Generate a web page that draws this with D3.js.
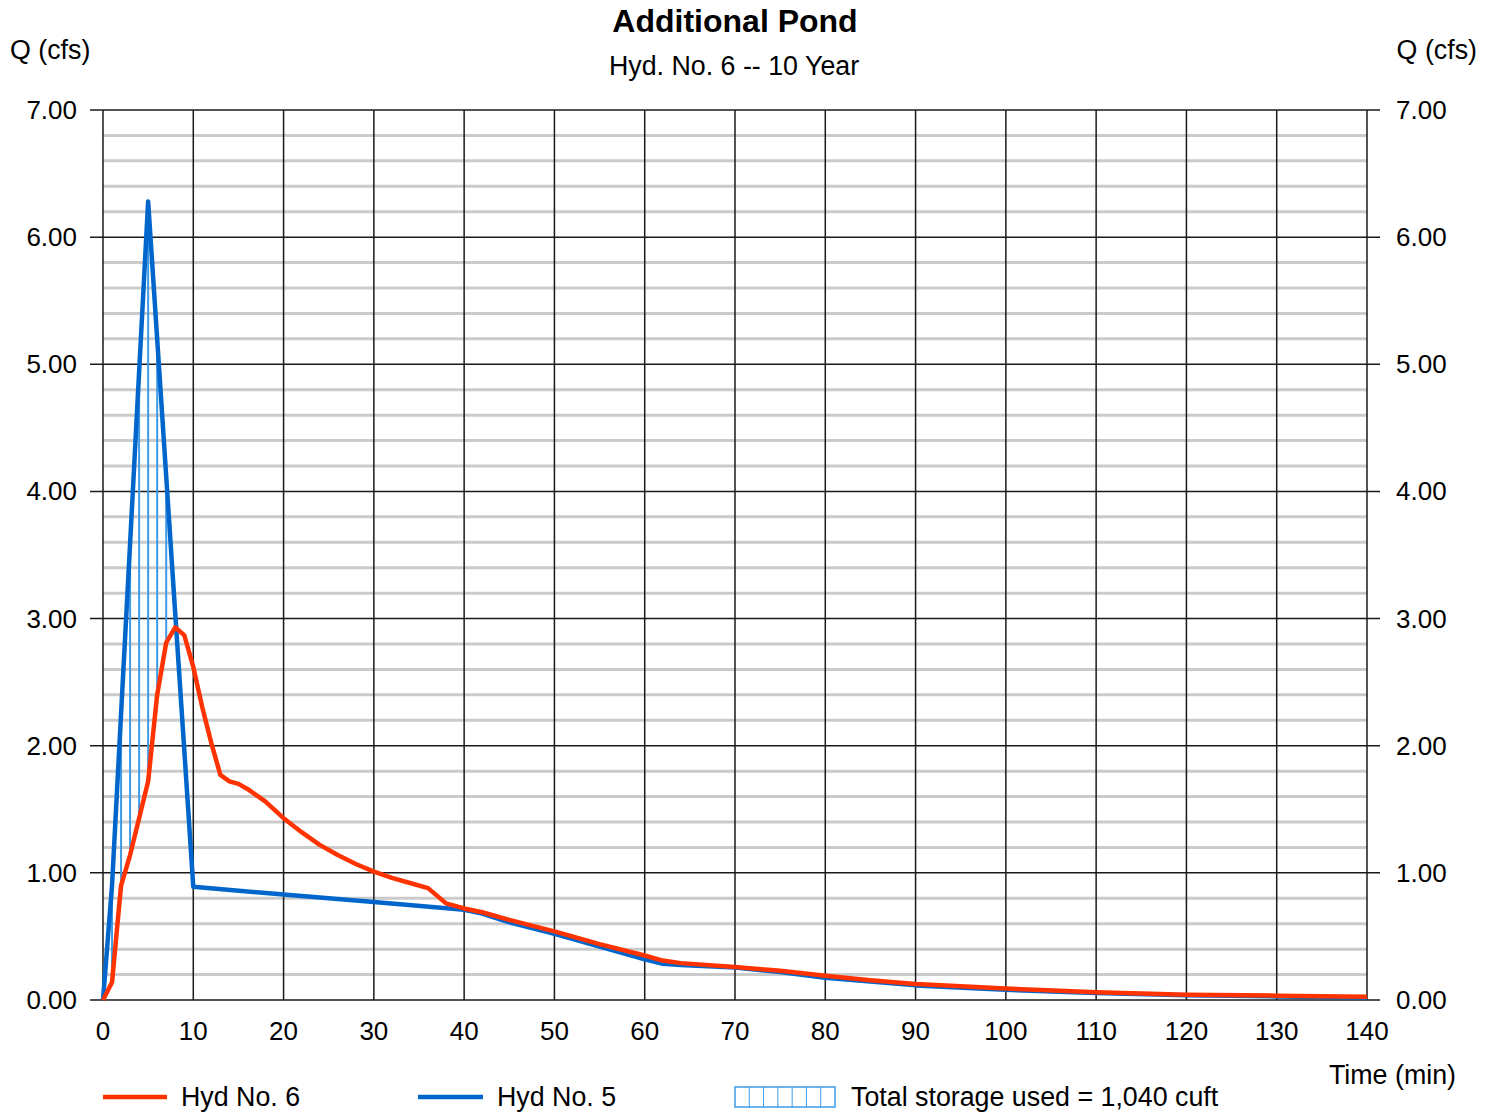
<!DOCTYPE html>
<html>
<head>
<meta charset="utf-8">
<script src="https://cdn.jsdelivr.net/npm/d3@7"></script>
<style>
  body { margin: 0; background: #fff; }
  svg { font-family: "Liberation Sans", Arial, sans-serif; }
</style>
</head>
<body>
<svg id="chart" width="1494" height="1112"></svg>
<script>
const red = '#ff3300'
const blue = '#0066cc'
const hatchBlue = '#3d9be6'

// Hyd No. 6 (outflow)
const timeOut = [0, 1, 2, 3, 4, 5, 6, 7, 8, 9, 10, 11, 12, 13, 14, 15, 16, 18, 20, 22, 24, 26, 28, 30, 32, 34, 36, 38, 40, 42, 45, 50, 55, 60, 62, 64, 70, 75, 80, 85, 90, 100, 110, 120, 130, 140]
const qOut = [0, 0.14, 0.90, 1.14, 1.43, 1.72, 2.40, 2.81, 2.93, 2.87, 2.62, 2.30, 2.02, 1.77, 1.72, 1.70, 1.66, 1.56, 1.43, 1.32, 1.22, 1.14, 1.07, 1.01, 0.96, 0.92, 0.88, 0.76, 0.72, 0.69, 0.63, 0.54, 0.44, 0.35, 0.31, 0.29, 0.26, 0.23, 0.19, 0.155, 0.125, 0.09, 0.06, 0.042, 0.034, 0.026]

// Hyd No. 5 (inflow)
const timeIn = [0, 1, 2, 3, 4, 5, 6, 7, 8, 9, 10, 20, 30, 40, 42, 45, 50, 55, 60, 62, 64, 70, 75, 80, 85, 90, 100, 110, 120, 130, 140]
const qIn = [0, 0.90, 2.25, 3.59, 4.94, 6.28, 5.20, 4.12, 3.04, 1.97, 0.89, 0.83, 0.77, 0.71, 0.68, 0.61, 0.52, 0.42, 0.32, 0.285, 0.275, 0.255, 0.22, 0.175, 0.145, 0.115, 0.08, 0.055, 0.038, 0.028, 0.02]

const xTicks = [0, 10, 20, 30, 40, 50, 60, 70, 80, 90, 100, 110, 120, 130, 140]
const yTicks = [0, 1, 2, 3, 4, 5, 6, 7]
const yMinor = d3.range(0, 7.01, 0.2)

const svg = d3.select('#chart')
const x = d3.scaleLinear().domain([0, 140]).range([103, 1367])
const y = d3.scaleLinear().domain([0, 7]).range([1000, 110])

// minor horizontal grid
svg.append('g').selectAll('line')
  .data(yMinor.filter(d => Math.abs(d - Math.round(d)) > 0.01))
  .enter().append('line')
  .attr('x1', x(0)).attr('x2', x(140))
  .attr('y1', d => y(d)).attr('y2', d => y(d))
  .attr('stroke', '#cbcbcb').attr('stroke-width', 3)

// major horizontal grid + ticks on both sides
svg.append('g').selectAll('line')
  .data(yTicks)
  .enter().append('line')
  .attr('x1', x(0) - 13).attr('x2', x(140) + 13)
  .attr('y1', d => y(d)).attr('y2', d => y(d))
  .attr('stroke', '#1a1a1a').attr('stroke-width', 1.5)

// vertical grid
svg.append('g').selectAll('line')
  .data(xTicks)
  .enter().append('line')
  .attr('x1', d => x(d)).attr('x2', d => x(d))
  .attr('y1', y(7)).attr('y2', y(0))
  .attr('stroke', '#1a1a1a').attr('stroke-width', 1.5)

// storage hatch: vertical lines each minute where inflow exceeds outflow
const outByTime = new Map(timeOut.map((t, i) => [t, qOut[i]]))
const hatch = timeIn.map((t, i) => ({ t, top: qIn[i], bottom: outByTime.get(t) }))
  .filter(d => d.t <= 10 && d.bottom !== undefined && d.top > d.bottom)

svg.append('g').selectAll('line')
  .data(hatch)
  .enter().append('line')
  .attr('x1', d => x(d.t)).attr('x2', d => x(d.t))
  .attr('y1', d => y(d.bottom)).attr('y2', d => y(d.top))
  .attr('stroke', hatchBlue).attr('stroke-width', 2)

const line = d3.line().x(d => x(d[0])).y(d => y(d[1]))

svg.append('path')
  .datum(timeIn.map((t, i) => [t, qIn[i]]))
  .attr('d', line)
  .attr('fill', 'none').attr('stroke', blue).attr('stroke-width', 4.5)
  .attr('stroke-linejoin', 'round')

svg.append('path')
  .datum(timeOut.map((t, i) => [t, qOut[i]]))
  .attr('d', line)
  .attr('fill', 'none').attr('stroke', red).attr('stroke-width', 4.5)
  .attr('stroke-linejoin', 'round')

// tick labels
const fmt = d3.format('.2f')
svg.append('g').selectAll('text')
  .data(yTicks)
  .enter().append('text')
  .attr('x', 77).attr('y', d => y(d) + 9)
  .attr('text-anchor', 'end').attr('font-size', 26)
  .text(d => fmt(d))

svg.append('g').selectAll('text')
  .data(yTicks)
  .enter().append('text')
  .attr('x', 1396).attr('y', d => y(d) + 9)
  .attr('font-size', 26)
  .text(d => fmt(d))

svg.append('g').selectAll('text')
  .data(xTicks)
  .enter().append('text')
  .attr('x', d => x(d)).attr('y', 1040)
  .attr('text-anchor', 'middle').attr('font-size', 26)
  .text(d => d)

// titles
svg.append('text').attr('x', 735).attr('y', 32).attr('text-anchor', 'middle')
  .attr('font-size', 32).attr('font-weight', 'bold').text('Additional Pond')
svg.append('text').attr('x', 734).attr('y', 75).attr('text-anchor', 'middle')
  .attr('font-size', 26.8).text('Hyd. No. 6 -- 10 Year')
svg.append('text').attr('x', 10).attr('y', 59).attr('font-size', 26.8).text('Q (cfs)')
svg.append('text').attr('x', 1477).attr('y', 59).attr('text-anchor', 'end')
  .attr('font-size', 26.8).text('Q (cfs)')
svg.append('text').attr('x', 1456).attr('y', 1084).attr('text-anchor', 'end')
  .attr('font-size', 26.8).text('Time (min)')

// legend
const legend = svg.append('g')
legend.append('line').attr('x1', 103).attr('x2', 167).attr('y1', 1097).attr('y2', 1097)
  .attr('stroke', red).attr('stroke-width', 4.5)
legend.append('text').attr('x', 181).attr('y', 1106).attr('font-size', 26.8).text('Hyd No. 6')
legend.append('line').attr('x1', 418).attr('x2', 483).attr('y1', 1097).attr('y2', 1097)
  .attr('stroke', blue).attr('stroke-width', 4.5)
legend.append('text').attr('x', 497).attr('y', 1106).attr('font-size', 26.8).text('Hyd No. 5')

const box = legend.append('g').attr('transform', 'translate(735 1087)')
box.append('rect').attr('width', 100).attr('height', 20)
  .attr('fill', 'none').attr('stroke', hatchBlue).attr('stroke-width', 1.5)
box.selectAll('line.h')
  .data(d3.range(1, 7))
  .enter().append('line')
  .attr('x1', d => d * 100 / 7).attr('x2', d => d * 100 / 7)
  .attr('y1', 0).attr('y2', 20)
  .attr('stroke', hatchBlue).attr('stroke-width', 1)
legend.append('text').attr('x', 851).attr('y', 1106).attr('font-size', 26.8)
  .text('Total storage used = 1,040 cuft')
</script>
</body>
</html>
